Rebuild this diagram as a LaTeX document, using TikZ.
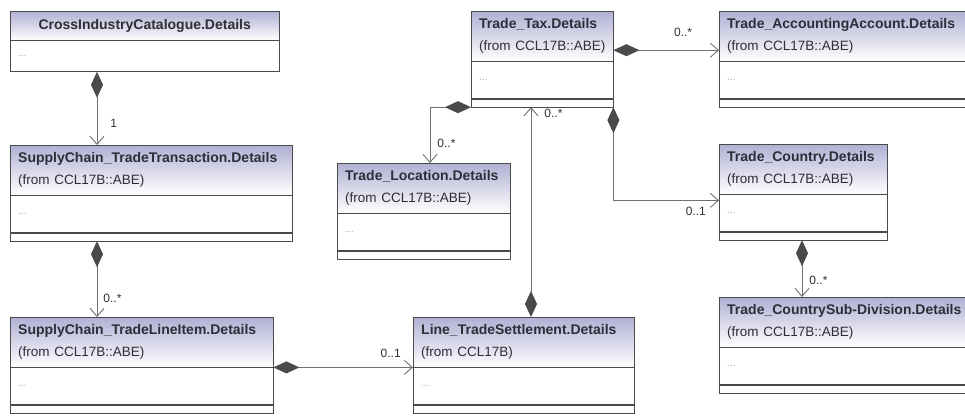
\documentclass[tikz,border=0pt]{standalone}
\usepackage{fontspec}
\setmainfont{Liberation Sans}
\usetikzlibrary{arrows.meta}

\definecolor{umlline}{HTML}{4A4A4A}
\definecolor{umlhead}{HTML}{B0B0D4}
\definecolor{umlwire}{HTML}{707070}
\definecolor{umldots}{HTML}{A8A8A8}
\definecolor{umltext}{HTML}{2E2E38}

\tikzset{
  clshead/.style={draw=umlline, top color=umlhead, bottom color=white, minimum height=50pt,
    inner sep=0pt, align=left, text=umltext, font=\fontsize{14}{22}\selectfont},
  clsattr/.style={draw=umlline, fill=white, minimum height=37pt, inner sep=0pt, align=left,
    text=umldots, font=\fontsize{10}{12}\selectfont},
  clsops/.style={draw=umlline, fill=white, minimum height=8pt, inner sep=0pt},
  comp/.style={draw=umlwire, line width=0.9pt,
    {Diamond[length=26pt,width=12pt,color=umlline]}-{Straight Barb[length=8pt,width=14pt]}},
  mult/.style={font=\fontsize{12}{12}\selectfont, text=umltext, inner sep=1pt},
}

% name, left, top, width, title, origin
\newcommand\classbox[6]{%
  \pgfmathsetmacro\clstw{#4-16}
  \node[clshead, minimum width=#4pt, text width=\clstw pt, anchor=north west] (#1) at (#2,#3)
    {\textbf{#5}\\\mbox{\fontsize{13.5}{22}\selectfont #6}};
  \node[clsattr, minimum width=#4pt, text width=\clstw pt, anchor=north] (#1-a) at (#1.south) {...};
  \node[clsops, minimum width=#4pt, anchor=north] (#1-o) at (#1-a.south) {};
}

\begin{document}
\begin{tikzpicture}[x=1pt, y=-1pt]
  \useasboundingbox (0,0) rectangle (965,415);
  \clip (0,0) rectangle (965,415);

  % classes
  \node[clshead, minimum width=269pt, minimum height=29pt, anchor=north west] (cat) at (10,11)
    {\textbf{CrossIndustryCatalogue.Details}};
  \node[clsattr, minimum width=269pt, minimum height=31pt, text width=253pt, anchor=north] (cat-a)
    at (cat.south) {...};
  \classbox{trans}{10}{145}{282}{SupplyChain\_TradeTransaction.Details}{(from CCL17B::ABE)}
  \classbox{item}{10}{317}{263}{SupplyChain\_TradeLineItem.Details}{(from CCL17B::ABE)}
  \classbox{settle}{413}{317}{221}{Line\_TradeSettlement.Details}{(from CCL17B)}
  \classbox{tax}{471}{11}{142}{Trade\_Tax.Details}{(from CCL17B::ABE)}
  \classbox{loc}{337}{163}{173}{Trade\_Location.Details}{(from CCL17B::ABE)}
  \classbox{acc}{719}{11}{262}{Trade\_AccountingAccount.Details}{(from CCL17B::ABE)}
  \classbox{country}{719}{144}{168}{Trade\_Country.Details}{(from CCL17B::ABE)}
  \classbox{sub}{719}{297}{262}{Trade\_CountrySub-Division.Details}{(from CCL17B::ABE)}

  % compositions
  \draw[comp] ([xshift=87pt]cat-a.south west) -- ([xshift=87pt]trans.north west)
    node[mult, pos=.7, right=12pt] {1};
  \draw[comp] ([xshift=87pt]trans-o.south west) -- ([xshift=87pt]item.north west)
    node[mult, pos=.75, right=5pt] {0..*};
  \draw[comp] (item.south east) -- (settle.south west)
    node[mult, pos=.84, above=8pt] {0..1};
  \draw[comp] ([xshift=118pt]settle.north west) -- ([xshift=60pt]tax-o.south west)
    node[mult, pos=.97, right=12pt] {0..*};
  \draw[comp] (tax-o.south west) -| ([xshift=93pt]loc.north west)
    node[mult, pos=.82, right=6pt] {0..*};
  \draw[comp] ([yshift=-14pt]tax.east) -- ([yshift=-14pt]acc.west)
    node[mult, pos=.66, above=12pt] {0..*};
  \draw[comp] (tax-o.south east) |- ([yshift=-6pt]country-a.north west)
    node[mult, pos=.89, below=5pt] {0..1};
  \draw[comp] ([xshift=83pt]country-o.south west) -- ([xshift=83pt]sub.north west)
    node[mult, pos=.7, right=6pt] {0..*};
\end{tikzpicture}
\end{document}
